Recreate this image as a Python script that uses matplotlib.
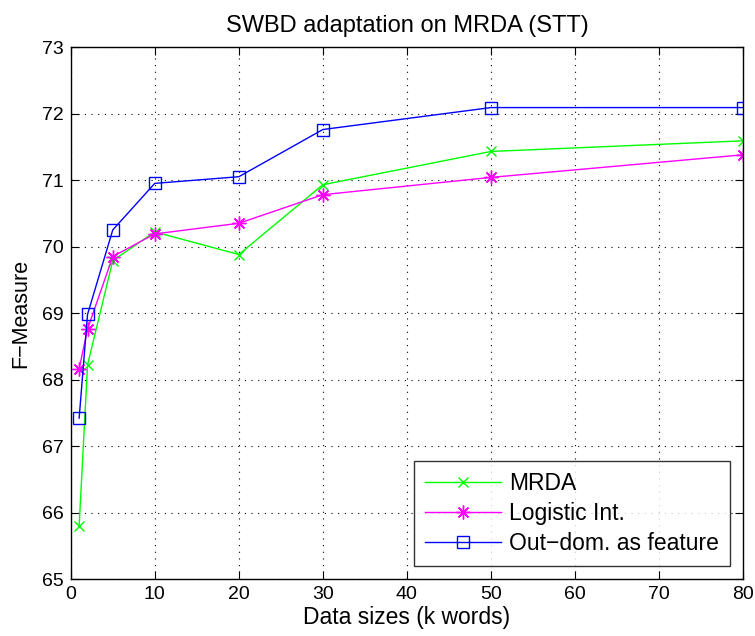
import matplotlib
matplotlib.use("Agg")
import matplotlib.pyplot as plt

x = [1, 2, 5, 10, 20, 30, 50, 80]
mrda = [65.80, 68.22, 69.79, 70.22, 69.88, 70.93, 71.43, 71.59]
logistic = [68.16, 68.76, 69.85, 70.19, 70.35, 70.78, 71.04, 71.38]
outdom = [67.42, 68.98, 70.25, 70.95, 71.05, 71.76, 72.09, 72.09]
xticks = [0, 10, 20, 30, 40, 50, 60, 70, 80]
yticks = [65, 66, 67, 68, 69, 70, 71, 72, 73]

plt.rcParams['font.family'] = ['Liberation Sans', 'DejaVu Sans']
fig = plt.figure(figsize=(7.55, 6.36), dpi=100)
ax = fig.add_axes([0.0937, 0.0896, 0.8905, 0.8364])

ax.plot(x, mrda, color='#00ff00', marker='x', markersize=7, lw=1.0, label='MRDA')
ax.plot(x, logistic, color='#ff00ff', marker=(8, 2, 0), markersize=10, markeredgewidth=1.0,
        lw=1.0, label='Logistic Int.')
ax.plot(x, outdom, color='#0000ff', marker='s', markersize=9, markerfacecolor='none', lw=1.0,
        label='Out\u2212dom. as feature')

ax.set_xlim(0, 80)
ax.set_ylim(65, 73)
ax.set_xticks(xticks)
ax.set_yticks(yticks)
ax.tick_params(direction='in', top=True, right=True, labelsize=14, length=6, pad=5)
ax.grid(True, color='black', linestyle=(0, (1, 5)), linewidth=0.8)
for s in ax.spines.values():
    s.set_linewidth(1.0)

ax.set_title('SWBD adaptation on MRDA (STT)', fontsize=17, pad=11)
ax.set_xlabel('Data sizes (k words)', fontsize=16.5, labelpad=2)
ax.set_ylabel('F\u2212Measure', fontsize=15.5, labelpad=8)

leg = ax.legend(loc='lower right', fontsize=16.5, frameon=True, fancybox=False, edgecolor='black',
                borderaxespad=0.55, handlelength=3.3, handletextpad=0.35, labelspacing=0.3,
                borderpad=0.5)
leg.get_frame().set_linewidth(1.0)

fig.savefig('out.png', dpi=100)
